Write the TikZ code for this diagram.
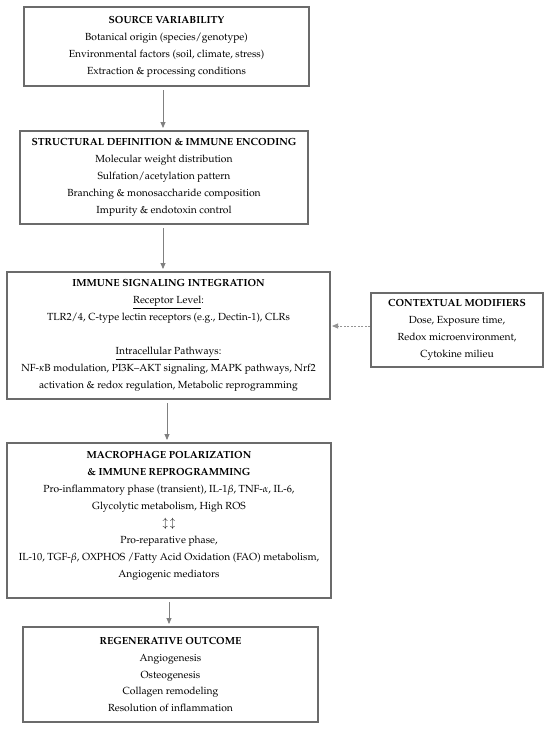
\documentclass[tikz,border=0pt]{standalone}
\usepackage[T1]{fontenc}
\usepackage{mathpazo}
\usetikzlibrary{arrows.meta}
\definecolor{boxgray}{gray}{0.42}
\definecolor{arrgray}{gray}{0.5}
\definecolor{dashgray}{gray}{0.58}
\newcommand\bodyfont{\fontsize{10.3}{16.9}\selectfont}
\begin{document}
\begin{tikzpicture}[x=1pt,y=-1pt,
  box/.style={draw=boxgray, line width=2.2pt, fill=white, rectangle, anchor=north west,
    inner sep=0pt, outer sep=0pt, align=center, font=\bodyfont},
  arr/.style={draw=arrgray, line width=0.9pt, -{Triangle[width=5pt,length=6pt]},
    shorten <=4pt, shorten >=3pt},
  darr/.style={draw=dashgray, line width=0.9pt, dash pattern=on 2pt off 1.5pt,
    -{Triangle[width=5pt,length=6pt]}, shorten <=1pt, shorten >=2pt}]
\useasboundingbox (0,0) rectangle (550,729);

\node[box, minimum width=285pt, minimum height=79pt] (b1) at (24,7)
  {\textbf{SOURCE VARIABILITY}\\
   Botanical origin (species/genotype)\\
   Environmental factors (soil, climate, stress)\\
   Extraction \& processing conditions};

\node[box, minimum width=288pt, minimum height=93pt] (b2) at (20,131)
  {\textbf{STRUCTURAL DEFINITION \& IMMUNE ENCODING}\\
   Molecular weight distribution\\
   Sulfation/acetylation pattern\\
   Branching \& monosaccharide composition\\
   Impurity \& endotoxin control};

\node[box, minimum width=323pt, minimum height=127pt] (b3) at (7,272)
  {\textbf{IMMUNE SIGNALING INTEGRATION}\\
   \underline{Receptor Level}:\\
   TLR2/4, C-type lectin receptors (e.g., Dectin-1), CLRs\\[16.9pt]
   \underline{Intracellular Pathways}:\\
   NF-$\kappa$B modulation, PI3K--AKT signaling, MAPK pathways, Nrf2\\
   activation \& redox regulation, Metabolic reprogramming};

\node[box, line width=1.6pt, minimum width=172pt, minimum height=74pt] (ctx) at (371,293)
  {\textbf{CONTEXTUAL MODIFIERS}\\
   Dose, Exposure time,\\
   Redox microenvironment,\\
   Cytokine milieu};

\node[box, minimum width=324pt, minimum height=155pt] (b4) at (7,443)
  {\textbf{MACROPHAGE POLARIZATION}\\
   \textbf{\& IMMUNE REPROGRAMMING}\\
   Pro-inflammatory phase (transient), IL-1$\beta$, TNF-$\alpha$, IL-6,\\
   Glycolytic metabolism, High ROS\\
   $\updownarrow\,\updownarrow$\\
   Pro-reparative phase,\\
   IL-10, TGF-$\beta$, OXPHOS /Fatty Acid Oxidation (FAO) metabolism,\\
   Angiogenic mediators\rule[-12pt]{0pt}{0pt}};

\node[box, minimum width=295pt, minimum height=95pt] (b5) at (23,627)
  {\textbf{REGENERATIVE OUTCOME}\\
   Angiogenesis\\
   Osteogenesis\\
   Collagen remodeling\\
   Resolution of inflammation};

\draw[arr] ([xshift=-3.5pt]b1.south) -- ([xshift=-3.5pt]b1.south |- b2.north);
\draw[arr] ([xshift=-1pt]b2.south) -- ([xshift=-1pt]b2.south |- b3.north);
\draw[arr] ([xshift=-1.5pt]b3.south) -- ([xshift=-1.5pt]b3.south |- b4.north);
\draw[arr] (b4.south) -- (b4.south |- b5.north);

\coordinate (dy) at (350,326);
\draw[darr] (ctx.west |- dy) -- (b3.east |- dy);
\end{tikzpicture}
\end{document}
